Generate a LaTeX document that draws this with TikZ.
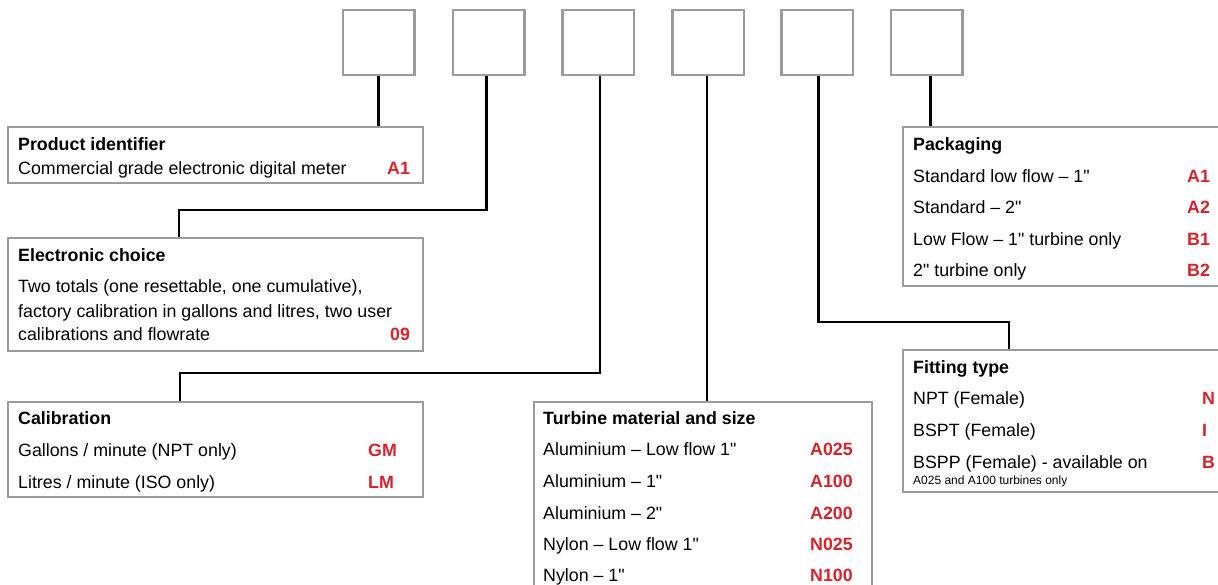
\documentclass[tikz,border=0pt]{standalone}
\usepackage{fontspec}
\setmainfont{Liberation Sans}[Ligatures=TeXOff]
\definecolor{boxgray}{RGB}{155,155,155}
\definecolor{codered}{RGB}{214,35,45}
\begin{document}
\begin{tikzpicture}[x=1pt,y=-1pt,
  frame/.style={draw=boxgray, line width=2.5pt, fill=white, inner sep=0pt, outer sep=0pt, anchor=north west},
  topbox/.style={frame, minimum width=71.5pt, minimum height=65pt},
  conn/.style={draw=black, line width=2.6pt},
  ttl/.style={anchor=base west, inner sep=0pt, font=\fontsize{17.8}{20}\selectfont\bfseries},
  txt/.style={anchor=base west, inner sep=0pt, font=\fontsize{17.8}{20}\selectfont},
  small/.style={anchor=base west, inner sep=0pt, font=\fontsize{12}{14}\selectfont},
  code/.style={anchor=base west, inner sep=0pt, text=codered, font=\fontsize{17.8}{20}\selectfont\bfseries}
]
\useasboundingbox (0,0) rectangle (1218,585);
\clip (0,0) rectangle (1218,585);
\fill[white] (0,0) rectangle (1218,585);

% top code boxes
\node[topbox] (t1) at (343,10) {};
\node[topbox] (t2) at (452.8,10) {};
\node[topbox] (t3) at (562.6,10) {};
\node[topbox] (t4) at (672.3,10) {};
\node[topbox] (t5) at (781.7,10) {};
\node[topbox] (t6) at (891,10) {};

% option boxes (shapes)
\node[frame, minimum width=415pt, minimum height=56pt] (prod) at (8,127) {};
\node[frame, minimum width=415pt, minimum height=113pt] (elec) at (8,238) {};
\node[frame, minimum width=415pt, minimum height=95pt] (cal) at (8,402) {};
\node[frame, minimum width=338pt, minimum height=250pt] (turb) at (534,402) {};
\node[frame, minimum width=400pt, minimum height=159pt] (pack) at (903,127) {};
\node[frame, minimum width=400pt, minimum height=142pt] (fit) at (903,350) {};

% connectors
\coordinate (k2) at (179,210);
\coordinate (k3) at (180,373);
\coordinate (k5) at (1009,322);
\draw[conn] (t1.south) -- (t1.south |- prod.north);
\draw[conn] ([xshift=-2pt]t2.south) |- (k2) -- (k2 |- elec.north);
\draw[conn] ([xshift=1.5pt]t3.south) |- (k3) -- (k3 |- cal.north);
\draw[conn] ([xshift=-1pt]t4.south) coordinate (s4) -- (s4 |- turb.north);
\draw[conn] ([xshift=1pt]t5.south) |- (k5) -- (k5 |- fit.north);
\draw[conn] ([xshift=4pt]t6.south) coordinate (s6) -- (s6 |- pack.north);

% redraw box borders over connector ends
\foreach \n in {t1,t2,t3,t4,t5,t6,prod,elec,cal,turb,pack,fit}{
  \draw[boxgray, line width=2.5pt] (\n.north west) rectangle (\n.south east);
}

% Product identifier
\node[ttl] (prodT) at (18,151) {Product identifier};
\node[txt] (prodA) at (18,175) {Commercial grade electronic digital meter};
\node[code] (prodAc) at (387,175) {A1};

% Electronic choice
\node[ttl] (elecT) at (18,262) {Electronic choice};
\node[txt] (elecA) at (18,293) {Two totals (one resettable, one cumulative),};
\node[txt] (elecB) at (18,317) {factory calibration in gallons and litres, two user};
\node[txt] (elecC) at (18,341) {calibrations and flowrate};
\node[code] (elecCc) at (390,341) {09};

% Calibration
\node[ttl] (calT) at (18,424.5) {Calibration};
\node[txt] (calA) at (18,456.5) {Gallons / minute (NPT only)};
\node[code] (calAc) at (368,456.5) {GM};
\node[txt] (calB) at (18,488) {Litres / minute (ISO only)};
\node[code] (calBc) at (368,488) {LM};

% Turbine material and size
\node[ttl] (turbT) at (543,424.5) {Turbine material and size};
\node[txt] (turbA) at (543,455.5) {Aluminium – Low flow 1"};
\node[code] (turbAc) at (810,455.5) {A025};
\node[txt] (turbB) at (543,487.5) {Aluminium – 1"};
\node[code] (turbBc) at (810,487.5) {A100};
\node[txt] (turbC) at (543,519.5) {Aluminium – 2"};
\node[code] (turbCc) at (810,519.5) {A200};
\node[txt] (turbD) at (543,550.5) {Nylon – Low flow 1"};
\node[code] (turbDc) at (810,550.5) {N025};
\node[txt] (turbE) at (543,581) {Nylon – 1"};
\node[code] (turbEc) at (810,581) {N100};

% Packaging
\node[ttl] (packT) at (913,150.5) {Packaging};
\node[txt] (packA) at (913,182.5) {Standard low flow – 1"};
\node[code] (packAc) at (1187,182.5) {A1};
\node[txt] (packB) at (913,213.5) {Standard – 2"};
\node[code] (packBc) at (1187,213.5) {A2};
\node[txt] (packC) at (913,245.5) {Low Flow – 1" turbine only};
\node[code] (packCc) at (1187,245.5) {B1};
\node[txt] (packD) at (913,276.5) {2" turbine only};
\node[code] (packDc) at (1187,276.5) {B2};

% Fitting type
\node[ttl] (fitT) at (913,373.5) {Fitting type};
\node[txt] (fitA) at (913,404.5) {NPT (Female)};
\node[code] (fitAc) at (1202,404.5) {N};
\node[txt] (fitB) at (913,436.5) {BSPT (Female)};
\node[code] (fitBc) at (1202,436.5) {I};
\node[txt] (fitC) at (913,468.5) {BSPP (Female) - available on};
\node[code] (fitCc) at (1202,468.5) {B};
\node[small] (fitD) at (913,484) {A025 and A100 turbines only};
\end{tikzpicture}
\end{document}
